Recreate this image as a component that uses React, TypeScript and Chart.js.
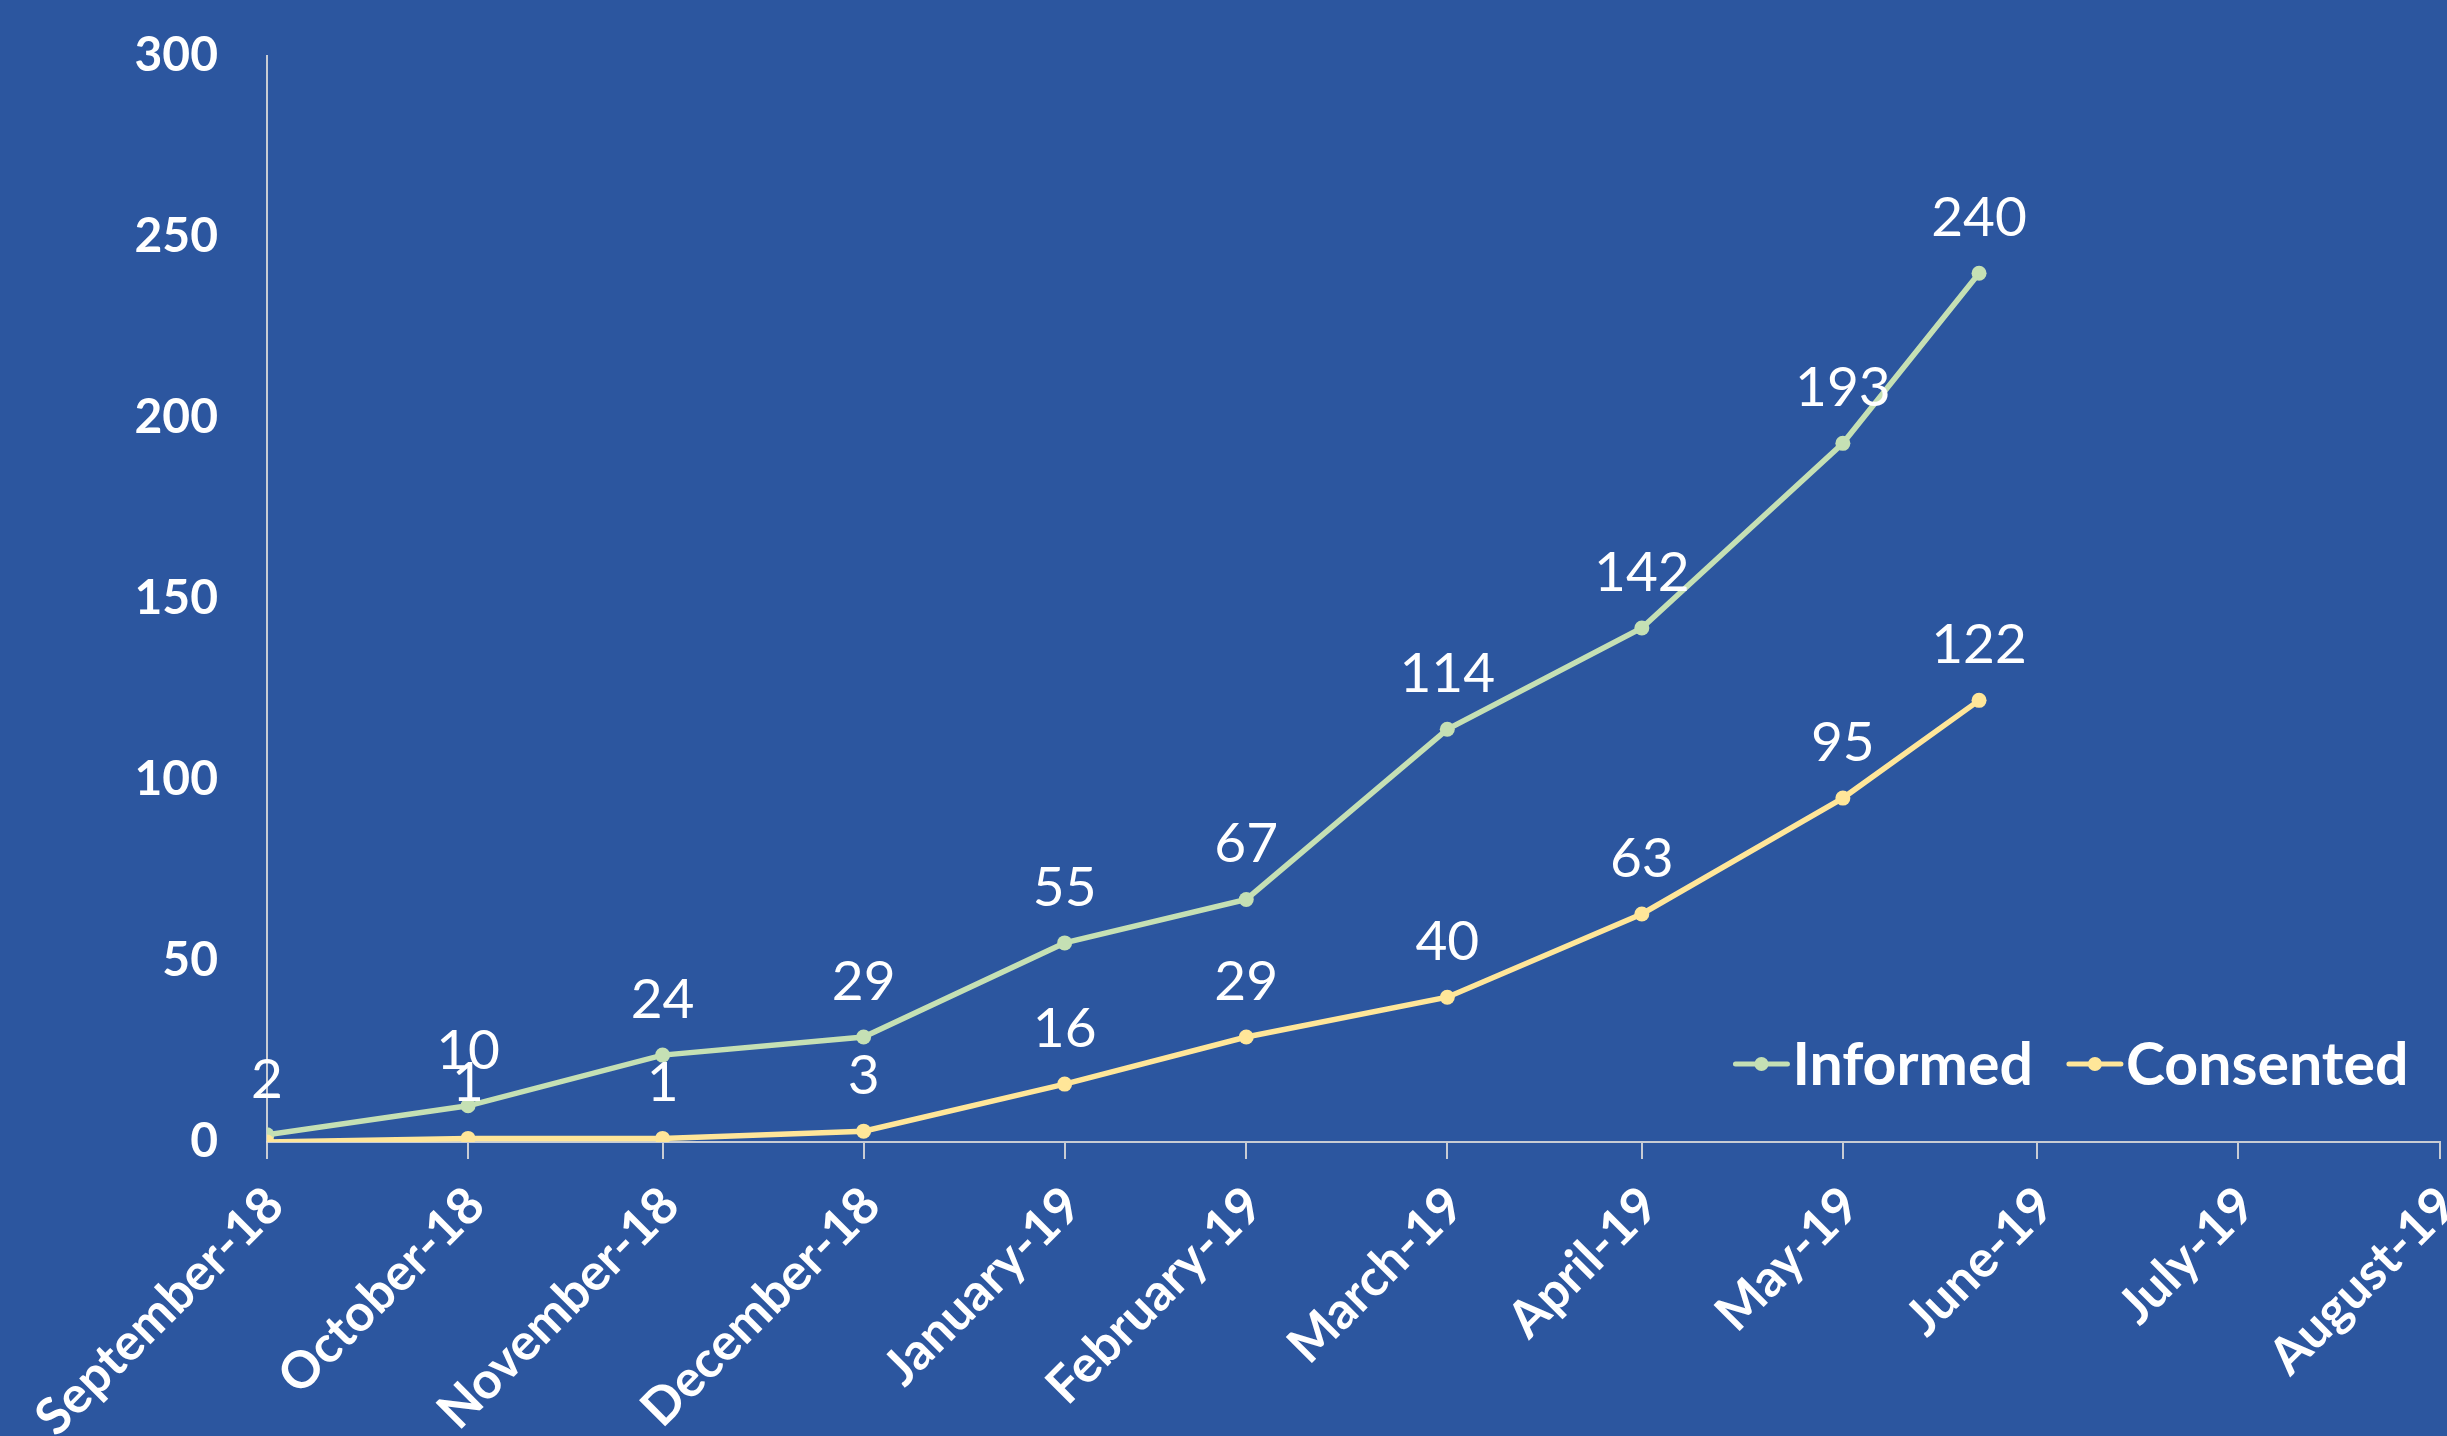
import React, { useEffect, useRef } from "react";
import { Chart, registerables } from "chart.js";

Chart.register(...registerables);

// ---- data ----
const pointDates = [
  "2018-09-30", "2018-10-31", "2018-11-30", "2018-12-31", "2019-01-31",
  "2019-02-28", "2019-03-31", "2019-04-30", "2019-05-31", "2019-06-21",
];
const informed = [2, 10, 24, 29, 55, 67, 114, 142, 193, 240];
const consented = [0, 1, 1, 3, 16, 29, 40, 63, 95, 122];

const tickDates = [
  "2018-09-30", "2018-10-31", "2018-11-30", "2018-12-31", "2019-01-31", "2019-02-28",
  "2019-03-31", "2019-04-30", "2019-05-31", "2019-06-30", "2019-07-31", "2019-08-31",
];
const tickLabels = [
  "September-18", "October-18", "November-18", "December-18", "January-19", "February-19",
  "March-19", "April-19", "May-19", "June-19", "July-19", "August-19",
];
const yTicks = [0, 50, 100, 150, 200, 250, 300];
const seriesNames = ["Informed", "Consented"];

// ---- styles ----
const BG = "#2C569F";
const GREEN = "#C5E0B4";
const YELLOW = "#FFE699";
const AXIS = "rgba(217,217,217,0.9)";
const FONT = "Lato, 'Open Sans', sans-serif";

const dayNum = (s: string) => Date.parse(s) / 86400000;

const valueLabels = {
  id: "valueLabels",
  afterDatasetsDraw(chart: any) {
    const ctx = chart.ctx;
    ctx.save();
    ctx.font = `400 55px ${FONT}`;
    ctx.fillStyle = "#FFFFFF";
    ctx.textAlign = "center";
    ctx.textBaseline = "alphabetic";
    chart.data.datasets.forEach((ds: any, di: number) => {
      const meta = chart.getDatasetMeta(di);
      meta.data.forEach((pt: any, i: number) => {
        const v = ds.data[i].y;
        if (v === 0) return;
        ctx.fillText(String(v), pt.x, pt.y - 37);
      });
    });
    ctx.restore();
  },
};

const inlineLegend = {
  id: "inlineLegend",
  afterDraw(chart: any) {
    const ctx = chart.ctx;
    const area = chart.chartArea;
    ctx.save();
    ctx.font = `700 59px ${FONT}`;
    ctx.textBaseline = "middle";
    ctx.textAlign = "left";
    const markerW = 56;
    const gapText = 3;
    const gapItem = 34;
    const items = chart.data.datasets.map((ds: any) => ({
      label: ds.label,
      color: ds.borderColor,
      w: markerW + gapText + ctx.measureText(ds.label).width,
    }));
    const total = items.reduce((a: number, it: any) => a + it.w, 0) + gapItem * (items.length - 1);
    let x = area.right - 31 - total;
    const y = area.bottom - 78;
    items.forEach((it: any) => {
      ctx.strokeStyle = it.color;
      ctx.lineWidth = 5;
      ctx.lineCap = "round";
      ctx.beginPath();
      ctx.moveTo(x + 2, y);
      ctx.lineTo(x + markerW - 2, y);
      ctx.stroke();
      ctx.fillStyle = it.color;
      ctx.beginPath();
      ctx.arc(x + markerW / 2, y, 7, 0, Math.PI * 2);
      ctx.fill();
      ctx.fillStyle = "#FFFFFF";
      ctx.fillText(it.label, x + markerW + gapText, y + 2);
      x += it.w + gapItem;
    });
    ctx.restore();
  },
};

export default function App() {
  const ref = useRef<HTMLCanvasElement | null>(null);

  useEffect(() => {
    if (!ref.current) return;
    const mk = (vals: number[]) => pointDates.map((d, i) => ({ x: dayNum(d), y: vals[i] }));
    const chart = new Chart(ref.current, {
      type: "line",
      data: {
        datasets: [
          {
            label: seriesNames[0],
            data: mk(informed),
            borderColor: GREEN,
            backgroundColor: GREEN,
            pointBackgroundColor: GREEN,
            pointBorderWidth: 0,
            pointRadius: 7.5,
            borderWidth: 5.5,
            tension: 0,
            order: 1,
          },
          {
            label: seriesNames[1],
            data: mk(consented),
            borderColor: YELLOW,
            backgroundColor: YELLOW,
            pointBackgroundColor: YELLOW,
            pointBorderWidth: 0,
            pointRadius: 7.5,
            borderWidth: 5.5,
            tension: 0,
            order: 0,
          },
        ],
      },
      options: {
        responsive: false,
        animation: false,
        layout: { padding: { top: 56, left: 0, right: 5, bottom: 0 } },
        plugins: {
          legend: { display: false },
          tooltip: { enabled: false },
        },
        scales: {
          x: {
            type: "linear",
            min: dayNum(tickDates[0]),
            max: dayNum(tickDates[tickDates.length - 1]),
            afterBuildTicks: (s: any) => {
              s.ticks = tickDates.map((d) => ({ value: dayNum(d) }));
            },
            afterFit: (s: any) => {
              s.height = 294;
              s.paddingLeft = 0;
              s.paddingRight = 0;
            },
            grid: {
              display: true,
              drawOnChartArea: false,
              drawTicks: true,
              tickLength: 17,
              color: AXIS,
              lineWidth: 2,
            },
            border: { display: true, color: AXIS, width: 2 },
            ticks: {
              autoSkip: false,
              minRotation: 45,
              maxRotation: 45,
              padding: 16,
              labelOffset: 8,
              color: "#FFFFFF",
              font: { family: FONT, size: 51, weight: "bold" },
              callback: (_v: any, i: number) => tickLabels[i] ?? "",
            },
          },
          y: {
            min: 0,
            max: 300,
            afterBuildTicks: (s: any) => {
              s.ticks = yTicks.map((v) => ({ value: v }));
            },
            afterFit: (s: any) => {
              s.width = 267;
              s.paddingTop = 0;
              s.paddingBottom = 0;
            },
            grid: { display: false, drawTicks: false },
            border: { display: true, color: AXIS, width: 2 },
            ticks: {
              padding: 49,
              color: "#FFFFFF",
              font: { family: FONT, size: 48, weight: "bold" },
            },
          },
        },
      },
      plugins: [valueLabels, inlineLegend],
    } as any);
    return () => chart.destroy();
  }, []);

  return (
    <div
      style={{
        position: "fixed",
        left: 0,
        top: 0,
        width: 2447,
        height: 1436,
        background: BG,
        overflow: "hidden",
      }}
    >
      <canvas ref={ref} width={2447} height={1436} style={{ display: "block" }} />
    </div>
  );
}
